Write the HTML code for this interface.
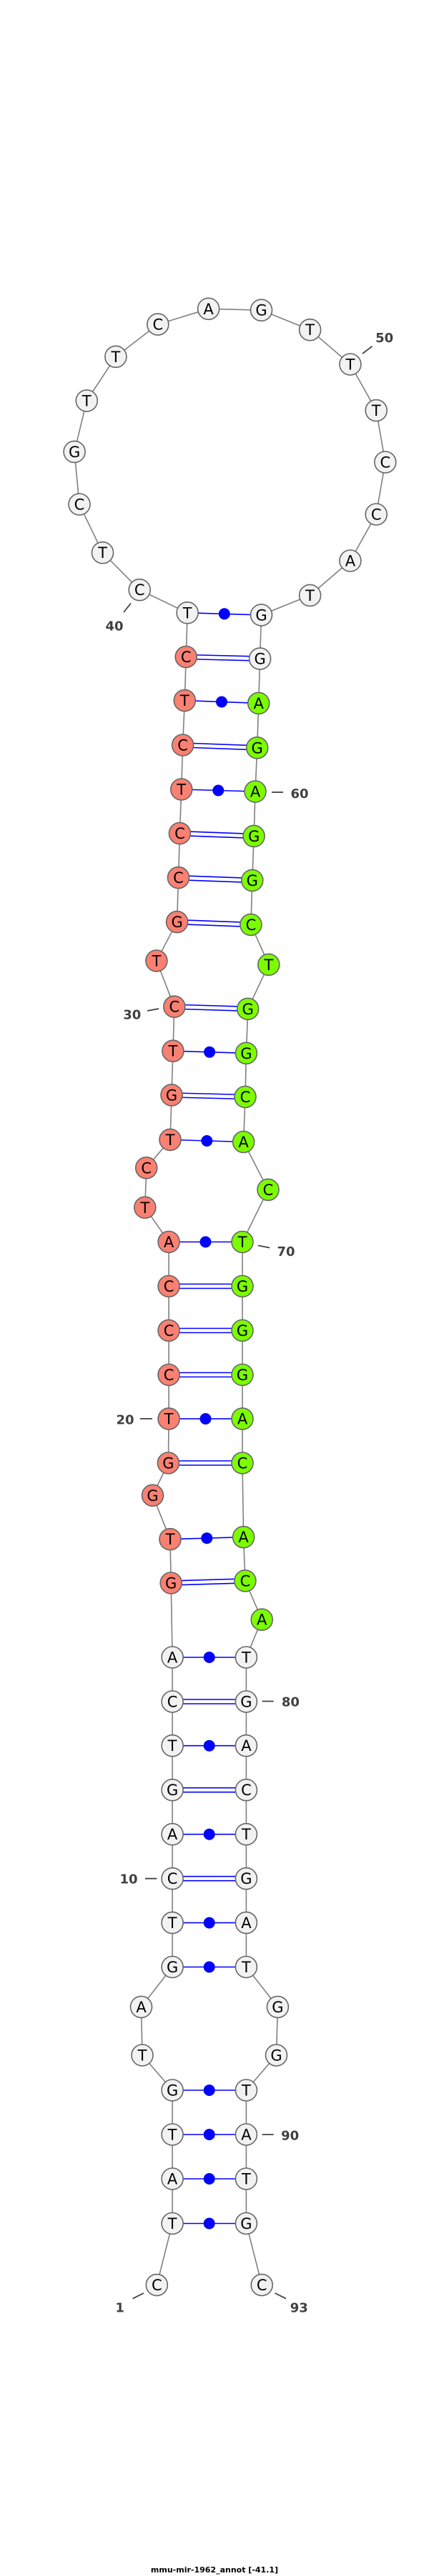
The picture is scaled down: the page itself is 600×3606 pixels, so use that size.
<!DOCTYPE html>
<html><head><meta charset="utf-8"><style>
html,body{margin:0;padding:0;background:#fff;}
svg{display:block;}
.n text{font-family:"DejaVu Sans","Liberation Sans",sans-serif;font-size:21px;text-anchor:middle;}
.lb{font-family:"DejaVu Sans","Liberation Sans",sans-serif;font-size:18px;font-weight:bold;fill:#404040;text-anchor:middle;}
</style></head><body>
<svg width="600" height="3606" viewBox="0 0 600 3606" xmlns="http://www.w3.org/2000/svg">
<polyline fill="none" stroke="#808080" stroke-width="1.6" points="219.3,3198.6 241.1,3112.5 241.1,3050 241.1,2988 241.1,2926 199,2877 197.5,2809.4 241.1,2753.5 241.1,2691.6 241.1,2629.7 241.1,2567.7 241.1,2505.7 241.1,2443.7 241.1,2382 241.1,2320 239.2,2216 238,2154.7 213.5,2093.3 235.4,2048 236.1,1986.1 236.1,1924.5 236.1,1862.5 236.1,1800.5 236.1,1738.5 202.8,1690.3 204.7,1634.8 238,1595.4 240,1532.9 241.9,1471.2 243.8,1409.2 218.9,1345 247.6,1290.6 249.5,1228.6 251.4,1166.6 253.7,1105 255.6,1043 258.3,980.6 260.2,919.5 262.1,857.8 195.2,825.7 143.5,773.7 111,706 104.1,632.4 121.3,560.9 161.9,499.3 220.8,454.1 291.6,432.3 365.5,434.2 433.6,461.7 489.9,510 526.2,574.6 538.8,647 526.2,720 489.9,785 433.6,833.4 365.5,860.9 363.6,922.1 361.7,984.4 359.7,1046.8 357,1108 355.1,1170.4 352.8,1232.4 350.9,1294.4 375.8,1350.3 346.7,1412.3 344.4,1474.3 343,1535.5 340.6,1598.5 375,1665.4 339,1738.5 339,1800.5 339,1862.5 339,1924.5 339,1986.1 339,2048 340.6,2151.7 342.9,2212.9 366.2,2267.2 344.4,2320 344.4,2382 344.4,2443.7 344.4,2505.7 344.4,2567.7 344.4,2629.7 344.4,2691.6 344.4,2753.5 388.4,2809.4 386.5,2877 344.4,2926 344.4,2988 344.4,3050 344.4,3112.5 366.2,3198.6"/>
<g stroke="#0000ff" stroke-width="1.6" fill="none">
<line x1="241.1" y1="3112.5" x2="344.4" y2="3112.5"/>
<line x1="241.1" y1="3050" x2="344.4" y2="3050"/>
<line x1="241.1" y1="2988" x2="344.4" y2="2988"/>
<line x1="241.1" y1="2926" x2="344.4" y2="2926"/>
<line x1="241.1" y1="2753.5" x2="344.4" y2="2753.5"/>
<line x1="241.1" y1="2691.6" x2="344.4" y2="2691.6"/>
<line x1="241.1" y1="2567.7" x2="344.4" y2="2567.7"/>
<line x1="241.1" y1="2443.7" x2="344.4" y2="2443.7"/>
<line x1="241.1" y1="2320" x2="344.4" y2="2320"/>
<line x1="238" y1="2154.7" x2="340.6" y2="2151.7"/>
<line x1="236.1" y1="1986.1" x2="339" y2="1986.1"/>
<line x1="236.1" y1="1738.5" x2="339" y2="1738.5"/>
<line x1="238" y1="1595.4" x2="340.6" y2="1598.5"/>
<line x1="241.9" y1="1471.2" x2="344.4" y2="1474.3"/>
<line x1="253.7" y1="1105" x2="357" y2="1108"/>
<line x1="258.3" y1="980.6" x2="361.7" y2="984.4"/>
<line x1="262.1" y1="857.8" x2="365.5" y2="860.9"/>
<line x1="241.1" y1="2626.7" x2="344.4" y2="2626.7"/><line x1="241.1" y1="2632.7" x2="344.4" y2="2632.7"/>
<line x1="241.1" y1="2502.7" x2="344.4" y2="2502.7"/><line x1="241.1" y1="2508.7" x2="344.4" y2="2508.7"/>
<line x1="241.1" y1="2379" x2="344.4" y2="2379"/><line x1="241.1" y1="2385" x2="344.4" y2="2385"/>
<line x1="239.2" y1="2213" x2="342.9" y2="2209.9"/><line x1="239.2" y1="2219" x2="342.9" y2="2215.9"/>
<line x1="235.4" y1="2045" x2="339" y2="2045"/><line x1="235.4" y1="2051" x2="339" y2="2051"/>
<line x1="236.1" y1="1921.5" x2="339" y2="1921.5"/><line x1="236.1" y1="1927.5" x2="339" y2="1927.5"/>
<line x1="236.1" y1="1859.5" x2="339" y2="1859.5"/><line x1="236.1" y1="1865.5" x2="339" y2="1865.5"/>
<line x1="236.1" y1="1797.5" x2="339" y2="1797.5"/><line x1="236.1" y1="1803.5" x2="339" y2="1803.5"/>
<line x1="240" y1="1529.9" x2="343" y2="1532.5"/><line x1="240" y1="1535.9" x2="343" y2="1538.5"/>
<line x1="243.8" y1="1406.2" x2="346.7" y2="1409.3"/><line x1="243.8" y1="1412.2" x2="346.7" y2="1415.3"/>
<line x1="247.6" y1="1287.6" x2="350.9" y2="1291.4"/><line x1="247.6" y1="1293.6" x2="350.9" y2="1297.4"/>
<line x1="249.5" y1="1225.6" x2="352.8" y2="1229.4"/><line x1="249.5" y1="1231.6" x2="352.8" y2="1235.4"/>
<line x1="251.4" y1="1163.6" x2="355.1" y2="1167.4"/><line x1="251.4" y1="1169.6" x2="355.1" y2="1173.4"/>
<line x1="255.6" y1="1040" x2="359.7" y2="1043.8"/><line x1="255.6" y1="1046" x2="359.7" y2="1049.8"/>
<line x1="260.2" y1="916.5" x2="363.6" y2="919.1"/><line x1="260.2" y1="922.5" x2="363.6" y2="925.1"/>
</g>
<g fill="#0000ff">
<circle cx="292.7" cy="3112.5" r="8"/><circle cx="292.7" cy="3050" r="8"/><circle cx="292.7" cy="2988" r="8"/><circle cx="292.7" cy="2926" r="8"/>
<circle cx="292.7" cy="2753.5" r="8"/><circle cx="292.7" cy="2691.6" r="8"/><circle cx="292.7" cy="2567.7" r="8"/><circle cx="292.7" cy="2443.7" r="8"/><circle cx="292.7" cy="2320" r="8"/>
<circle cx="289.3" cy="2153.2" r="8"/><circle cx="287.5" cy="1986.1" r="8"/><circle cx="287.5" cy="1738.5" r="8"/><circle cx="289.3" cy="1597" r="8"/>
<circle cx="293.1" cy="1472.7" r="8"/><circle cx="305.3" cy="1106.5" r="8"/><circle cx="310" cy="982.5" r="8"/><circle cx="313.8" cy="859.3" r="8"/>
</g>
<g class="n" stroke="#666" stroke-width="1.6">
<g fill="#f2f2f2">
<circle cx="219.3" cy="3198.6" r="15"/><circle cx="241.1" cy="3112.5" r="15"/><circle cx="241.1" cy="3050" r="15"/><circle cx="241.1" cy="2988" r="15"/><circle cx="241.1" cy="2926" r="15"/>
<circle cx="199" cy="2877" r="15"/><circle cx="197.5" cy="2809.4" r="15"/><circle cx="241.1" cy="2753.5" r="15"/><circle cx="241.1" cy="2691.6" r="15"/><circle cx="241.1" cy="2629.7" r="15"/>
<circle cx="241.1" cy="2567.7" r="15"/><circle cx="241.1" cy="2505.7" r="15"/><circle cx="241.1" cy="2443.7" r="15"/><circle cx="241.1" cy="2382" r="15"/><circle cx="241.1" cy="2320" r="15"/>
<circle cx="262.1" cy="857.8" r="15"/><circle cx="195.2" cy="825.7" r="15"/><circle cx="143.5" cy="773.7" r="15"/><circle cx="111" cy="706" r="15"/><circle cx="104.1" cy="632.4" r="15"/>
<circle cx="121.3" cy="560.9" r="15"/><circle cx="161.9" cy="499.3" r="15"/><circle cx="220.8" cy="454.1" r="15"/><circle cx="291.6" cy="432.3" r="15"/><circle cx="365.5" cy="434.2" r="15"/>
<circle cx="433.6" cy="461.7" r="15"/><circle cx="489.9" cy="510" r="15"/><circle cx="526.2" cy="574.6" r="15"/><circle cx="538.8" cy="647" r="15"/><circle cx="526.2" cy="720" r="15"/>
<circle cx="489.9" cy="785" r="15"/><circle cx="433.6" cy="833.4" r="15"/><circle cx="365.5" cy="860.9" r="15"/><circle cx="363.6" cy="922.1" r="15"/>
<circle cx="344.4" cy="2320" r="15"/><circle cx="344.4" cy="2382" r="15"/><circle cx="344.4" cy="2443.7" r="15"/><circle cx="344.4" cy="2505.7" r="15"/><circle cx="344.4" cy="2567.7" r="15"/>
<circle cx="344.4" cy="2629.7" r="15"/><circle cx="344.4" cy="2691.6" r="15"/><circle cx="344.4" cy="2753.5" r="15"/><circle cx="388.4" cy="2809.4" r="15"/><circle cx="386.5" cy="2877" r="15"/>
<circle cx="344.4" cy="2926" r="15"/><circle cx="344.4" cy="2988" r="15"/><circle cx="344.4" cy="3050" r="15"/><circle cx="344.4" cy="3112.5" r="15"/><circle cx="366.2" cy="3198.6" r="15"/>
</g>
<g fill="#fa8072">
<circle cx="239.2" cy="2216" r="15"/><circle cx="238" cy="2154.7" r="15"/><circle cx="213.5" cy="2093.3" r="15"/><circle cx="235.4" cy="2048" r="15"/><circle cx="236.1" cy="1986.1" r="15"/>
<circle cx="236.1" cy="1924.5" r="15"/><circle cx="236.1" cy="1862.5" r="15"/><circle cx="236.1" cy="1800.5" r="15"/><circle cx="236.1" cy="1738.5" r="15"/><circle cx="202.8" cy="1690.3" r="15"/>
<circle cx="204.7" cy="1634.8" r="15"/><circle cx="238" cy="1595.4" r="15"/><circle cx="240" cy="1532.9" r="15"/><circle cx="241.9" cy="1471.2" r="15"/><circle cx="243.8" cy="1409.2" r="15"/>
<circle cx="218.9" cy="1345" r="15"/><circle cx="247.6" cy="1290.6" r="15"/><circle cx="249.5" cy="1228.6" r="15"/><circle cx="251.4" cy="1166.6" r="15"/><circle cx="253.7" cy="1105" r="15"/>
<circle cx="255.6" cy="1043" r="15"/><circle cx="258.3" cy="980.6" r="15"/><circle cx="260.2" cy="919.5" r="15"/>
</g>
<g fill="#7cfc00">
<circle cx="361.7" cy="984.4" r="15"/><circle cx="359.7" cy="1046.8" r="15"/><circle cx="357" cy="1108" r="15"/><circle cx="355.1" cy="1170.4" r="15"/><circle cx="352.8" cy="1232.4" r="15"/>
<circle cx="350.9" cy="1294.4" r="15"/><circle cx="375.8" cy="1350.3" r="15"/><circle cx="346.7" cy="1412.3" r="15"/><circle cx="344.4" cy="1474.3" r="15"/><circle cx="343" cy="1535.5" r="15"/>
<circle cx="340.6" cy="1598.5" r="15"/><circle cx="375" cy="1665.4" r="15"/><circle cx="339" cy="1738.5" r="15"/><circle cx="339" cy="1800.5" r="15"/><circle cx="339" cy="1862.5" r="15"/>
<circle cx="339" cy="1924.5" r="15"/><circle cx="339" cy="1986.1" r="15"/><circle cx="339" cy="2048" r="15"/><circle cx="340.6" cy="2151.7" r="15"/><circle cx="342.9" cy="2212.9" r="15"/>
<circle cx="366.2" cy="2267.2" r="15"/>
</g>
<g fill="#000" stroke="none">
<text x="219.3" y="3206.1">C</text><text x="241.1" y="3120">T</text><text x="241.1" y="3057.5">A</text><text x="241.1" y="2995.5">T</text><text x="241.1" y="2933.5">G</text>
<text x="199" y="2884.5">T</text><text x="197.5" y="2816.9">A</text><text x="241.1" y="2761">G</text><text x="241.1" y="2699.1">T</text><text x="241.1" y="2637.2">C</text>
<text x="241.1" y="2575.2">A</text><text x="241.1" y="2513.2">G</text><text x="241.1" y="2451.2">T</text><text x="241.1" y="2389.5">C</text><text x="241.1" y="2327.5">A</text>
<text x="239.2" y="2223.5">G</text><text x="238" y="2162.2">T</text><text x="213.5" y="2100.8">G</text><text x="235.4" y="2055.5">G</text><text x="236.1" y="1993.6">T</text>
<text x="236.1" y="1932">C</text><text x="236.1" y="1870">C</text><text x="236.1" y="1808">C</text><text x="236.1" y="1746">A</text><text x="202.8" y="1697.8">T</text>
<text x="204.7" y="1642.3">C</text><text x="238" y="1602.9">T</text><text x="240" y="1540.4">G</text><text x="241.9" y="1478.7">T</text><text x="243.8" y="1416.7">C</text>
<text x="218.9" y="1352.5">T</text><text x="247.6" y="1298.1">G</text><text x="249.5" y="1236.1">C</text><text x="251.4" y="1174.1">C</text><text x="253.7" y="1112.5">T</text>
<text x="255.6" y="1050.5">C</text><text x="258.3" y="988.1">T</text><text x="260.2" y="927">C</text><text x="262.1" y="865.3">T</text><text x="195.2" y="833.2">C</text>
<text x="143.5" y="781.2">T</text><text x="111" y="713.5">C</text><text x="104.1" y="639.9">G</text><text x="121.3" y="568.4">T</text><text x="161.9" y="506.8">T</text>
<text x="220.8" y="461.6">C</text><text x="291.6" y="439.8">A</text><text x="365.5" y="441.7">G</text><text x="433.6" y="469.2">T</text><text x="489.9" y="517.5">T</text>
<text x="526.2" y="582.1">T</text><text x="538.8" y="654.5">C</text><text x="526.2" y="727.5">C</text><text x="489.9" y="792.5">A</text><text x="433.6" y="840.9">T</text>
<text x="365.5" y="868.4">G</text><text x="363.6" y="929.6">G</text><text x="361.7" y="991.9">A</text><text x="359.7" y="1054.3">G</text><text x="357" y="1115.5">A</text>
<text x="355.1" y="1177.9">G</text><text x="352.8" y="1239.9">G</text><text x="350.9" y="1301.9">C</text><text x="375.8" y="1357.8">T</text><text x="346.7" y="1419.8">G</text>
<text x="344.4" y="1481.8">G</text><text x="343" y="1543">C</text><text x="340.6" y="1606">A</text><text x="375" y="1672.9">C</text><text x="339" y="1746">T</text>
<text x="339" y="1808">G</text><text x="339" y="1870">G</text><text x="339" y="1932">G</text><text x="339" y="1993.6">A</text><text x="339" y="2055.5">C</text>
<text x="340.6" y="2159.2">A</text><text x="342.9" y="2220.4">C</text><text x="366.2" y="2274.7">A</text><text x="344.4" y="2327.5">T</text><text x="344.4" y="2389.5">G</text>
<text x="344.4" y="2451.2">A</text><text x="344.4" y="2513.2">C</text><text x="344.4" y="2575.2">T</text><text x="344.4" y="2637.2">G</text><text x="344.4" y="2699.1">A</text>
<text x="344.4" y="2761">T</text><text x="388.4" y="2816.9">G</text><text x="386.5" y="2884.5">G</text><text x="344.4" y="2933.5">T</text><text x="344.4" y="2995.5">A</text>
<text x="344.4" y="3057.5">T</text><text x="344.4" y="3120">G</text><text x="366.2" y="3206.1">C</text>
</g>
</g>
<g stroke="#404040" stroke-width="1.8">
<line x1="507" y1="495" x2="520.5" y2="484.7"/>
<line x1="173" y1="857" x2="183" y2="844.5"/>
<line x1="380" y1="1109" x2="396" y2="1109"/>
<line x1="206" y1="1415" x2="222" y2="1412"/>
<line x1="361" y1="1743.5" x2="377" y2="1746.6"/>
<line x1="196" y1="1986" x2="213" y2="1986"/>
<line x1="366.6" y1="2381.5" x2="382.7" y2="2381.5"/>
<line x1="203" y1="2629.7" x2="219.3" y2="2629.7"/>
<line x1="366.6" y1="2988" x2="382.7" y2="2988"/>
<line x1="185.6" y1="3217.7" x2="201" y2="3210"/>
<line x1="384.6" y1="3210" x2="400" y2="3217.7"/>
</g>
<g class="lb">
<text x="537.7" y="479">50</text>
<text x="160" y="882.5">40</text>
<text x="419" y="1117">60</text>
<text x="184.8" y="1426.5">30</text>
<text x="400" y="1758">70</text>
<text x="175" y="1993.5">20</text>
<text x="406.4" y="2388.5">80</text>
<text x="180" y="2636.5">10</text>
<text x="405.7" y="2995.5">90</text>
<text x="167.6" y="3236.5">1</text>
<text x="418.3" y="3236.5">93</text>
</g>
<text x="300" y="3601" font-family="DejaVu Sans, Liberation Sans, sans-serif" font-size="11" font-weight="bold" text-anchor="middle" fill="#000">mmu-mir-1962_annot [-41.1]</text>
</svg>
</body></html>
